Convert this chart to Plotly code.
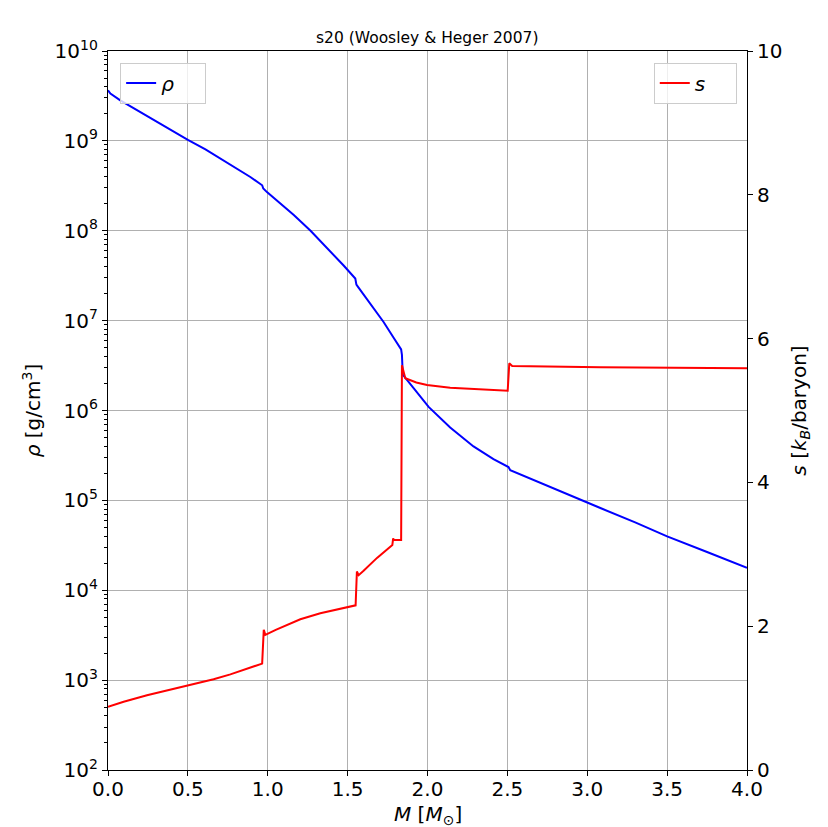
import plotly.graph_objects as go

# Enclosed mass coordinate [M_sun] and log10 density [g/cm^3]
mass_rho = [0.0, 0.015, 0.077, 0.2, 0.307, 0.4, 0.5, 0.61, 0.724, 0.891,
            0.965, 0.972, 0.995, 1.080, 1.163, 1.268, 1.371, 1.475, 1.548,
            1.555, 1.565, 1.642, 1.725, 1.788, 1.835, 1.840, 1.845, 1.913,
            2.007, 2.142, 2.288, 2.413, 2.507, 2.518, 2.664, 2.873, 3.082,
            3.3, 3.5, 3.75, 4.0]
log_rho = [9.563, 9.526, 9.45, 9.32, 9.21, 9.115, 9.01, 8.905, 8.784, 8.598,
           8.506, 8.47, 8.43, 8.306, 8.176, 8.0, 7.813, 7.613, 7.468,
           7.40, 7.375, 7.19, 6.985, 6.81, 6.68, 6.62, 6.40, 6.25,
           6.04, 5.81, 5.60, 5.46, 5.37, 5.336, 5.225, 5.075, 4.915,
           4.755, 4.60, 4.425, 4.25]

# Entropy per baryon [k_B]
mass_s = [0.0, 0.098, 0.244, 0.5, 0.661, 0.766, 0.87, 0.965, 0.975, 0.985,
          1.05, 1.1, 1.204, 1.329, 1.504, 1.55, 1.558, 1.569, 1.6, 1.684, 1.78,
          1.785, 1.79, 1.835, 1.840, 1.861, 1.93, 1.997, 2.142, 2.351, 2.502,
          2.512, 2.53, 3.083, 4.0]
entropy = [0.88, 0.95, 1.04, 1.17, 1.262, 1.33, 1.405, 1.48, 1.95, 1.88,
           1.95, 2.0, 2.096, 2.18, 2.27, 2.29, 2.76, 2.71, 2.77, 2.95, 3.13,
           3.22, 3.20, 3.20, 5.63, 5.448, 5.39, 5.355, 5.317, 5.295, 5.275,
           5.656, 5.62, 5.60, 5.587]

rho = [10 ** v for v in log_rho]

decades = list(range(2, 11))
decade_vals = [10 ** d for d in decades]
decade_text = [f"10<sup>{d}</sup>" for d in decades]
minor_vals = [k * 10 ** d for d in range(2, 10) for k in range(2, 10)]

x_ticks = [0.0, 0.5, 1.0, 1.5, 2.0, 2.5, 3.0, 3.5, 4.0]
s_ticks = [0, 2, 4, 6, 8, 10]

font_main = "DejaVu Sans"

fig = go.Figure()
fig.add_trace(go.Scatter(
    x=mass_rho, y=rho, mode="lines", name="<i>ρ</i>    ",
    line=dict(color="#0000ff", width=2),
    legend="legend",
))
fig.add_trace(go.Scatter(
    x=mass_s, y=entropy, mode="lines", name="<i>s</i>    ", yaxis="y2",
    line=dict(color="#ff0000", width=2), legend="legend2",
))

axis_common = dict(
    showline=True, linecolor="black", linewidth=1.2,
    ticks="outside", ticklen=5, tickwidth=1.2, tickcolor="black",
    tickfont=dict(family=font_main, size=20, color="black"),
    zeroline=False, automargin=False,
)

fig.update_layout(
    width=828, height=827,
    margin=dict(l=108, r=81, t=51, b=57),
    paper_bgcolor="white", plot_bgcolor="white",
    title=dict(text="s20 (Woosley & Heger 2007)", x=0.516, xanchor="center",
               y=0.955, yanchor="middle",
               font=dict(family=font_main, size=15.5, color="black")),
    xaxis=dict(
        range=[0, 4], tickvals=x_ticks,
        ticktext=[f"{v:.1f}" for v in x_ticks],
        showgrid=True, gridcolor="#b0b0b0", gridwidth=1, mirror=True,
        ticklabelstandoff=-4,
        **axis_common,
    ),
    yaxis=dict(
        type="log", range=[2, 10], tickvals=decade_vals, ticktext=decade_text,
        showgrid=True, gridcolor="#b0b0b0", gridwidth=1, mirror=True,
        minor=dict(tickvals=minor_vals, ticks="outside", ticklen=3,
                   tickwidth=1, tickcolor="black", showgrid=False),
        title=dict(text="<i>ρ</i> [g/cm<sup>3</sup>]", standoff=8,
                   font=dict(family=font_main, size=20, color="black")),
        **axis_common,
    ),
    yaxis2=dict(
        overlaying="y", side="right", range=[0, 10], tickvals=s_ticks,
        ticktext=[str(v) for v in s_ticks], showgrid=False,
        title=dict(text="<i>s</i> [<i>k</i><sub><i>B</i></sub>/baryon]",
                   standoff=10,
                   font=dict(family=font_main, size=20, color="black")),
        **axis_common,
    ),
    legend=dict(
        x=0.019, y=0.984, xanchor="left", yanchor="top",
        bgcolor="rgba(255,255,255,0.8)", bordercolor="#cccccc", borderwidth=1,
        font=dict(family=font_main, size=20, color="black"),
    ),
    legend2=dict(
        x=0.984, y=0.984, xanchor="right", yanchor="top",
        bgcolor="rgba(255,255,255,0.8)", bordercolor="#cccccc", borderwidth=1,
        font=dict(family=font_main, size=20, color="black"),
    ),
    showlegend=True,
)

# x-axis label placed below the tick labels
fig.add_annotation(
    text="<i>M</i> [<i>M</i><sub>⊙</sub>]", xref="paper", yref="paper",
    x=0.5, y=-0.062, xanchor="center", yanchor="middle", showarrow=False,
    borderpad=0,
    font=dict(family=font_main, size=20, color="black"),
)

fig.write_html("out.html")
